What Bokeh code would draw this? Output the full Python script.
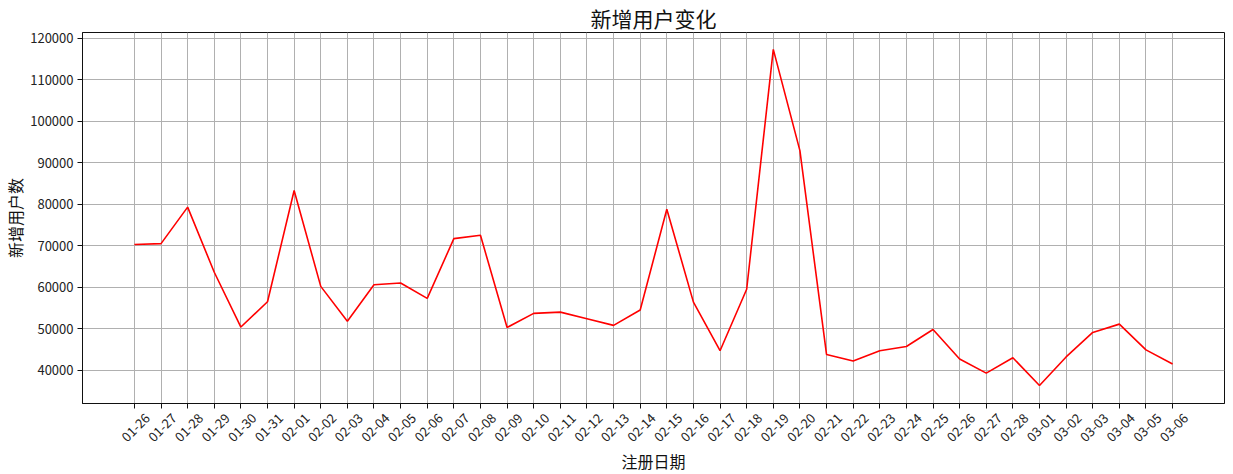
import math
from bokeh.plotting import figure
from bokeh.models import (Range1d, FixedTicker, PrintfTickFormatter,
                          LinearAxis)
from bokeh.embed import file_html
from bokeh.resources import INLINE

dates = ["01-26", "01-27", "01-28", "01-29", "01-30", "01-31",
         "02-01", "02-02", "02-03", "02-04", "02-05", "02-06", "02-07", "02-08",
         "02-09", "02-10", "02-11", "02-12", "02-13", "02-14", "02-15", "02-16",
         "02-17", "02-18", "02-19", "02-20", "02-21", "02-22", "02-23", "02-24",
         "02-25", "02-26", "02-27", "02-28",
         "03-01", "03-02", "03-03", "03-04", "03-05", "03-06"]
new_users = [70300, 70500, 79300, 63600, 50400, 56500,
             83300, 60200, 51800, 60600, 61000, 57300, 71700, 72500,
             50300, 53700, 54000, 52400, 50800, 54500, 78800, 56400,
             44700, 59500, 117300, 92900, 43800, 42200, 44700, 45700,
             49800, 42700, 39300, 43000,
             36300, 43200, 49100, 51100, 44900, 41500]
y_ticks = [40000, 50000, 60000, 70000, 80000, 90000, 100000, 110000, 120000]

title_text = "新增用户变化"
x_label = "注册日期"
y_label = "新增用户数"

xs = list(range(len(dates)))
n = len(dates)
pad = 0.05 * (n - 1)
x0, x1 = -pad, n - 1 + pad
ymin, ymax = 31976, 121373

FONT = "Noto Sans CJK SC"
FRAME_W, FRAME_H = 1142, 371
LABEL_SHIFT_PX = 13  # centre the rotated date labels under their ticks

p = figure(frame_width=FRAME_W, frame_height=FRAME_H, output_backend="svg",
           toolbar_location=None,
           x_range=Range1d(x0, x1), y_range=Range1d(ymin, ymax),
           min_border_left=72, min_border_right=2, min_border_top=22,
           min_border_bottom=4)

shift = LABEL_SHIFT_PX * (x1 - x0) / FRAME_W
p.extra_x_ranges = {"labels": Range1d(x0 - shift, x1 - shift)}

p.title.text = title_text
p.title.align = "center"
p.title.text_font = FONT
p.title.text_font_size = "21px"
p.title.text_font_style = "normal"
p.title.text_color = "#111111"
p.title.standoff = 0

p.line(xs, new_users, line_color="#ff0000", line_width=1.6)

p.outline_line_color = "#111111"
p.outline_line_width = 1
p.outline_line_alpha = 1

p.xaxis.ticker = FixedTicker(ticks=xs)
p.yaxis.ticker = FixedTicker(ticks=y_ticks)
p.yaxis.formatter = PrintfTickFormatter(format="%d")

for ax in (p.xaxis, p.yaxis):
    ax.axis_line_color = "#111111"
    ax.major_tick_line_color = "#111111"
    ax.major_tick_in = 0
    ax.major_tick_out = 5
    ax.minor_tick_line_color = None
    ax.major_label_text_font = FONT
    ax.major_label_text_font_size = "13px"
    ax.major_label_text_color = "#222222"
    ax.axis_label_text_font = FONT
    ax.axis_label_text_font_size = "16px"
    ax.axis_label_text_font_style = "normal"
    ax.axis_label_text_color = "#111111"
    ax.major_label_standoff = 4
    ax.axis_label_standoff = 0

# main x axis: ticks only
p.xaxis.major_label_text_color = None
p.xaxis.major_label_standoff = 0

# date labels on a companion axis
lab_axis = LinearAxis(x_range_name="labels", ticker=FixedTicker(ticks=xs),
                      major_label_overrides={i: d for i, d in enumerate(dates)},
                      major_label_orientation=math.pi / 4,
                      axis_line_color=None, major_tick_line_color=None,
                      minor_tick_line_color=None,
                      major_tick_in=0, major_tick_out=0,
                      major_label_standoff=7,
                      major_label_text_font=FONT,
                      major_label_text_font_size="13px",
                      major_label_text_color="#222222",
                      axis_label=x_label, axis_label_standoff=0,
                      axis_label_text_font=FONT,
                      axis_label_text_font_size="16px",
                      axis_label_text_font_style="normal",
                      axis_label_text_color="#111111")
p.add_layout(lab_axis, "below")

p.yaxis.axis_label = y_label

p.xgrid.ticker = FixedTicker(ticks=xs)
p.ygrid.ticker = FixedTicker(ticks=y_ticks)
for g in (p.xgrid, p.ygrid):
    g.grid_line_color = "#b0b0b0"
    g.grid_line_width = 1

open("out.html", "w").write(file_html(p, INLINE))
